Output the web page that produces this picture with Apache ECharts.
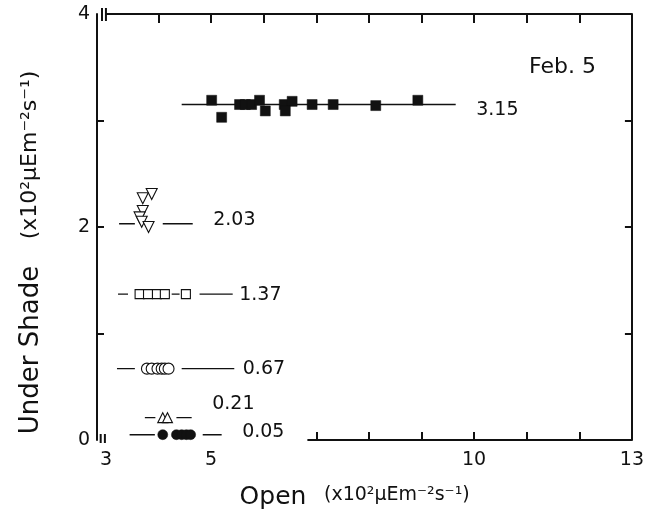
<!DOCTYPE html>
<html>
<head>
<meta charset="utf-8">
<script src="https://cdn.jsdelivr.net/npm/echarts@6/dist/echarts.min.js"></script>
<style>
  html, body { margin: 0; padding: 0; background: #fff; }
  #chart { width: 647px; height: 522px; }
</style>
</head>
<body>
<div id="chart"></div>
<script>
// Photon flux under shade plotted against the open-site flux, Feb. 5

// Axis ticks and labels
const xTopTicks = [4, 5, 6, 7, 8, 9, 10, 11, 12, 13];
const xBottomTicks = [7, 8, 9, 10, 11, 12, 13];
const xLabels = [3, 5, 10, 13];
const yTicks = [1, 2, 3];
const yLabels = [0, 2, 4];

// Group means (under shade)
const groupMeans = [3.15, 2.03, 1.37, 0.67, 0.21, 0.05];

// Filled squares, mean 3.15
const openA = [5.01, 5.20, 5.54, 5.65, 5.77, 5.92, 6.03, 6.39, 6.54, 6.41, 6.92, 7.32, 8.13, 8.93];
const shadeA = [3.19, 3.03, 3.15, 3.15, 3.15, 3.19, 3.09, 3.15, 3.18, 3.09, 3.15, 3.15, 3.14, 3.19];
const segA = [[4.44, 9.65]];

// Open inverted triangles, mean 2.03
const openB = [3.87, 3.70, 3.70, 3.64, 3.68, 3.81];
const shadeB = [2.31, 2.27, 2.15, 2.09, 2.05, 2.00];
const segB = [[3.25, 3.55], [4.08, 4.65]];

// Open squares, mean 1.37
const openC = [3.64, 3.80, 3.97, 4.12, 4.52];
const shadeC = [1.37, 1.37, 1.37, 1.37, 1.37];
const segC = [[3.23, 3.42], [4.25, 4.40], [4.78, 5.41]];

// Open circles, mean 0.67
const openD = [3.78, 3.87, 3.98, 4.06, 4.12, 4.19];
const shadeD = [0.67, 0.67, 0.67, 0.67, 0.67, 0.67];
const segD = [[3.21, 3.55], [4.44, 5.44]];

// Open triangles, mean 0.21
const openE = [4.08, 4.17];
const shadeE = [0.21, 0.21];
const segE = [[3.74, 3.94], [4.34, 4.63]];

// Filled circles, mean 0.05
const openF = [4.08, 4.34, 4.44, 4.53, 4.61];
const shadeF = [0.05, 0.05, 0.05, 0.05, 0.05];
const segF = [[3.45, 3.93], [4.84, 5.20]];

const INK = '#111';
const FONT = 'DejaVu Sans';

const groups = [
  { x: openA, y: shadeA, seg: segA, symbol: 'rect', size: 10, filled: true, rotate: 0, labelOffset: [20, 6] },
  { x: openB, y: shadeB, seg: segB, symbol: 'triangle', size: 11, filled: false, rotate: 180, labelOffset: [20, -4] },
  { x: openC, y: shadeC, seg: segC, symbol: 'rect', size: 9, filled: false, rotate: 0, labelOffset: [6, 1] },
  { x: openD, y: shadeD, seg: segD, symbol: 'circle', size: 11, filled: false, rotate: 0, labelOffset: [8, 0] },
  { x: openE, y: shadeE, seg: segE, symbol: 'triangle', size: 10, filled: false, rotate: 0, labelOffset: [20, -14] },
  { x: openF, y: shadeF, seg: segF, symbol: 'circle', size: 10, filled: true, rotate: 0, labelOffset: [20, -3] }
];

const series = [];
groups.forEach((g, gi) => {
  const mean = groupMeans[gi];
  g.seg.forEach(s => {
    series.push({
      type: 'line', silent: true, symbol: 'none', z: 2,
      lineStyle: { color: INK, width: 1.4, opacity: 1 },
      data: [[s[0], mean], [s[1], mean]]
    });
  });
  series.push({
    type: 'scatter', silent: true, z: 3,
    symbol: g.symbol, symbolSize: g.size, symbolRotate: g.rotate,
    itemStyle: g.filled
      ? { color: INK, borderColor: INK, borderWidth: 0.5, opacity: 1 }
      : { color: '#fff', borderColor: INK, borderWidth: 1.1, opacity: 1 },
    data: g.x.map((v, i) => [v, g.y[i]])
  });
  const end = g.seg[g.seg.length - 1][1];
  series.push({
    type: 'scatter', silent: true, z: 4,
    symbol: 'circle', symbolSize: 1,
    itemStyle: { color: 'rgba(0,0,0,0)', opacity: 1 },
    label: {
      show: true, position: 'right', distance: 0, offset: g.labelOffset,
      formatter: mean.toFixed(2), color: INK, opacity: 1, fontFamily: FONT, fontSize: 19
    },
    data: [[end, mean]]
  });
});

const axisLine = { show: true, onZero: false, lineStyle: { color: INK, width: 2 } };
const tickStyle = { color: INK, width: 2 };

const chart = echarts.init(document.getElementById('chart'), null, { renderer: 'canvas' });
chart.setOption({
  animation: false,
  backgroundColor: '#fff',
  grid: { left: 97, right: 13, top: 14, bottom: 82, containLabel: false },
  xAxis: [
    {
      type: 'value', position: 'bottom', min: 2.83, max: 13,
      axisLine: { show: false, onZero: false }, splitLine: { show: false },
      axisTick: { show: true, inside: true, length: 8, lineStyle: tickStyle, customValues: xBottomTicks },
      axisLabel: { show: true, customValues: xLabels, margin: 11, color: INK, fontFamily: FONT, fontSize: 19 }
    },
    {
      type: 'value', position: 'top', min: 2.83, max: 13,
      axisLine: { show: false, onZero: false }, splitLine: { show: false },
      axisTick: { show: true, inside: true, length: 9, lineStyle: tickStyle, customValues: xTopTicks },
      axisLabel: { show: false }
    }
  ],
  yAxis: [
    {
      type: 'value', position: 'left', min: 0, max: 4,
      axisLine: axisLine, splitLine: { show: false },
      axisTick: { show: true, inside: true, length: 7, lineStyle: tickStyle, customValues: yTicks },
      axisLabel: { show: true, customValues: yLabels, margin: 7, color: INK, fontFamily: FONT, fontSize: 19 }
    },
    {
      type: 'value', position: 'right', min: 0, max: 4,
      axisLine: axisLine, splitLine: { show: false },
      axisTick: { show: true, inside: true, length: 7, lineStyle: tickStyle, customValues: yTicks },
      axisLabel: { show: false }
    }
  ],
  series: series
});

// Axis frame pieces and break marks placed through the axis scales
const px = (x, y) => chart.convertToPixel({ xAxisIndex: 0, yAxisIndex: 0 }, [x, y]);
const lineEl = (p0, p1, w) => ({
  type: 'line', silent: true, z: 10,
  shape: { x1: p0[0], y1: p0[1], x2: p1[0], y2: p1[1] },
  style: { stroke: INK, lineWidth: w || 2 }
});
const topStart = px(3.0, 4), topEnd = px(13, 4);
const botStart = px(6.83, 0), botEnd = px(13, 0);
const brkTop1 = px(2.925, 4), brkTop2 = px(3.0, 4);
const brkBot1 = px(2.9, 0), brkBot2 = px(2.98, 0);

chart.setOption({
  graphic: [
    lineEl(topStart, topEnd),
    lineEl(botStart, botEnd),
    lineEl([brkTop1[0], brkTop1[1] - 6], [brkTop1[0], brkTop1[1] + 7]),
    lineEl([brkTop2[0], brkTop2[1] - 6], [brkTop2[0], brkTop2[1] + 7]),
    lineEl([brkBot1[0], brkBot1[1] - 6], [brkBot1[0], brkBot1[1] + 3]),
    lineEl([brkBot2[0], brkBot2[1] - 6], [brkBot2[0], brkBot2[1] + 3]),
    {
      type: 'text', silent: true, left: 529, top: 56,
      style: { text: 'Feb. 5', fill: INK, font: '22px "DejaVu Sans"' }
    },
    {
      type: 'text', silent: true, x: 273, y: 497,
      style: { text: 'Open', fill: INK, font: '25px "DejaVu Sans"', align: 'center', verticalAlign: 'middle' }
    },
    {
      type: 'text', silent: true, x: 324, y: 495,
      style: { text: '(x10²μEm⁻²s⁻¹)', fill: INK, font: '19px "DejaVu Sans"', align: 'left', verticalAlign: 'middle' }
    },
    {
      type: 'text', silent: true, x: 31, y: 350, rotation: Math.PI / 2,
      style: { text: 'Under Shade', fill: INK, font: '26px "DejaVu Sans"', align: 'center', verticalAlign: 'middle' }
    },
    {
      type: 'text', silent: true, x: 30, y: 155, rotation: Math.PI / 2,
      style: { text: '(x10²μEm⁻²s⁻¹)', fill: INK, font: '22px "DejaVu Sans"', align: 'center', verticalAlign: 'middle' }
    }
  ]
});
</script>
</body>
</html>
